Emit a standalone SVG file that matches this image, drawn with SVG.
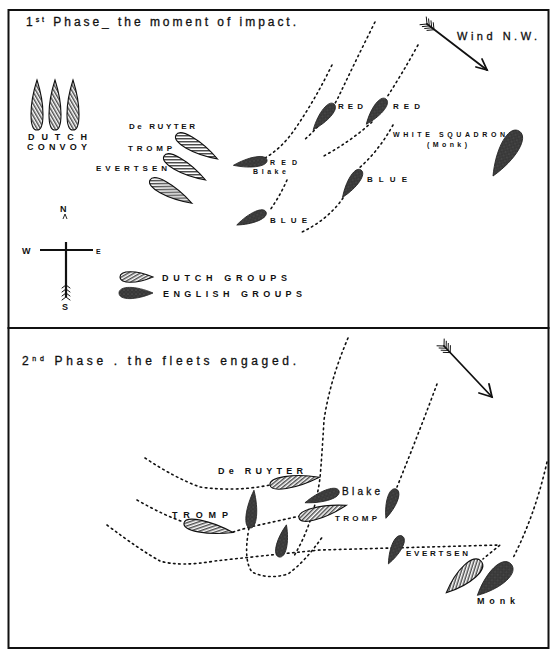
<svg xmlns="http://www.w3.org/2000/svg" width="558" height="658" viewBox="0 0 558 658">
<defs>
<pattern id="hatch" patternUnits="userSpaceOnUse" width="3" height="3" patternTransform="rotate(60)">
<rect width="3" height="3" fill="#fff"/>
<line x1="0.8" y1="0" x2="0.8" y2="3" stroke="#111" stroke-width="1.1"/>
</pattern>
<pattern id="stip" patternUnits="userSpaceOnUse" width="4" height="4">
<rect width="4" height="4" fill="#383838"/>
<circle cx="1" cy="1" r="0.5" fill="#777"/>
<circle cx="3" cy="3" r="0.4" fill="#666"/>
</pattern>
</defs>
<style>
.frame{fill:none;stroke:#111;stroke-width:2}
.dutch{fill:url(#hatch);stroke:#111;stroke-width:1.1}
.eng{fill:url(#stip);stroke:#222;stroke-width:0.8}
.track{fill:none;stroke:#111;stroke-width:1.6;stroke-dasharray:1.6 3.6;stroke-linecap:round}
.arrow{fill:none;stroke:#111;stroke-width:1.8;stroke-linecap:round}
.feather{fill:none;stroke:#111;stroke-width:1;stroke-linecap:round}
text{font-family:"Liberation Sans","DejaVu Sans",sans-serif;fill:#111}
.title{font-size:12px;stroke:#111;stroke-width:0.3}
.lab{font-size:9px;font-weight:bold}
.small{font-size:8px;font-weight:bold}
.tiny{font-size:7px;font-weight:bold}
.sup{font-size:7px}
</style>

<!-- frames -->
<rect class="frame" x="8.5" y="10" width="540" height="318"/>
<rect class="frame" x="8.5" y="328" width="540" height="320"/>

<!-- connectors / tracks -->
<g id="connectors">
<path class="track" d="M332,65 Q315,100 295,129 Q282,148 265,158"/>
<path class="track" d="M375,22 Q355,62 337,100 Q322,125 303,141"/>
<path class="track" d="M418,45 Q402,74 387,97 M372,122 Q350,142 322,157"/>
<path class="track" d="M393,125 Q378,152 358,169 M343,198 Q328,220 300,233"/>
<path class="track" d="M287,180 Q280,196 270,210"/>
<path class="track" d="M145,458 Q175,478 200,487 Q235,492 270,485"/>
<path class="track" d="M137,500 Q165,516 184,522 M233,532 L250,527 L300,516"/>
<path class="track" d="M107,525 Q140,550 160,561 Q180,567 215,561 Q260,556 320,550 L500,545 L483,559"/>
<path class="track" d="M348,338 Q330,380 324,420 Q322,455 320,478 Q315,515 300,545 L293,558"/>
<path class="track" d="M249,528 Q243,560 252,572 Q268,580 288,574 Q305,562 323,536"/>
<path class="track" d="M437,384 Q420,430 397,487"/>
<path class="track" d="M547,462 Q535,515 513,558"/>
</g>

<!-- titles -->
<g id="title1"><text class="title" x="26" y="26" textLength="270" lengthAdjust="spacing">1<tspan class="sup" dy="-4">st</tspan><tspan dy="4"> Phase_ the moment of impact.</tspan></text></g>
<g id="title2"><text class="title" x="22" y="365" textLength="274" lengthAdjust="spacing">2<tspan class="sup" dy="-4">nd</tspan><tspan dy="4"> Phase . the fleets engaged.</tspan></text></g>

<!-- wind arrows -->
<g id="wind1">
<line class="arrow" x1="427" y1="24" x2="487" y2="70"/>
<polyline class="arrow" points="476,67 487,70 482,59"/>
<path class="feather" d="M427,24 l-7,0.7 M427,24 l-0.7,-7 M429.3,25.9 l-7,0.7 M429.3,25.9 l-0.7,-7 M431.7,27.8 l-7,0.7 M431.7,27.8 l-0.7,-7 M434,29.7 l-7,0.7 M434,29.7 l-0.7,-7"/>
<text x="457" y="40" font-size="11" stroke="#111" stroke-width="0.3" textLength="80" lengthAdjust="spacing">Wind N.W.</text>
</g>
<g id="wind2">
<line class="arrow" x1="444" y1="346" x2="492" y2="397"/>
<polyline class="arrow" points="479,393 492,397 489,384"/>
<path class="feather" d="M444,346 l-7,-0.2 M444,346 l0.2,-7 M446.1,348.2 l-7,-0.2 M446.1,348.2 l0.2,-7 M448.1,350.4 l-7,-0.2 M448.1,350.4 l0.2,-7 M450.2,352.6 l-7,-0.2 M450.2,352.6 l0.2,-7"/>
</g>

<!-- compass -->
<g id="compass">
<text x="60" y="212" font-size="9" font-weight="bold">N</text>
<polyline fill="none" stroke="#111" stroke-width="0.9" points="63,219 65,214 67,219"/>
<line x1="40" y1="250" x2="93" y2="250" stroke="#111" stroke-width="2.2"/>
<line x1="66" y1="242" x2="66" y2="297" stroke="#111" stroke-width="2.2"/>
<path class="feather" d="M66,285 l-4,3 M66,285 l4,3 M66,289 l-4,3 M66,289 l4,3 M66,293 l-4,3 M66,293 l4,3 M66,297 l-4,3 M66,297 l4,3"/>
<text x="22" y="254" font-size="9" font-weight="bold">W</text>
<text x="96" y="254" font-size="7" font-weight="bold">E</text>
<text x="62" y="310" font-size="9" font-weight="bold">S</text>
</g>

<!-- legend -->
<g id="legend">
<path class="dutch" transform="translate(120,277)" d="M0,0 C0,-7 16.5,-7 33,0 C16.5,7 0,7 0,0Z"/>
<text class="lab" x="162" y="281" textLength="125" lengthAdjust="spacing">DUTCH GROUPS</text>
<path class="eng" transform="translate(119,293)" d="M0,0 C0,-7.5 17,-7.5 34,0 C17,7.5 0,7.5 0,0Z"/>
<text class="lab" x="163" y="297" textLength="139" lengthAdjust="spacing">ENGLISH GROUPS</text>
</g>

<!-- phase 1 nodes -->
<g id="dutch-convoy">
<path class="dutch" transform="translate(37,130) rotate(-90)" d="M0,0 C0,-8 25,-8 50,0 C25,8 0,8 0,0Z"/>
<path class="dutch" transform="translate(55,130) rotate(-90)" d="M0,0 C0,-8 25,-8 50,0 C25,8 0,8 0,0Z"/>
<path class="dutch" transform="translate(73,130) rotate(-90)" d="M0,0 C0,-8 25,-8 50,0 C25,8 0,8 0,0Z"/>
<text class="lab" x="28" y="140" textLength="59" lengthAdjust="spacing" font-weight="normal">DUTCH</text>
<text class="lab" x="27" y="150" textLength="60" lengthAdjust="spacing" font-weight="normal">CONVOY</text>
</g>
<g id="p1-deruyter">
<path class="dutch" transform="translate(176,135) rotate(30)" d="M0,0 C0,-8.5 24,-8.5 48,0 C24,8.5 0,8.5 0,0Z"/>
<text class="small" x="129" y="129" textLength="66" lengthAdjust="spacing">De RUYTER</text>
</g>
<g id="p1-tromp">
<path class="dutch" transform="translate(164,156) rotate(30)" d="M0,0 C0,-8.5 24,-8.5 48,0 C24,8.5 0,8.5 0,0Z"/>
<text class="small" x="128" y="151" textLength="44" lengthAdjust="spacing" font-weight="normal">TROMP</text>
</g>
<g id="p1-evertsen">
<path class="dutch" transform="translate(150,180) rotate(29)" d="M0,0 C0,-8.5 24,-8.5 48,0 C24,8.5 0,8.5 0,0Z"/>
<text class="small" x="96" y="171" textLength="71" lengthAdjust="spacing" font-weight="normal">EVERTSEN</text>
</g>
<g id="p1-red-blake">
<path class="eng" transform="translate(267,160) rotate(171)" d="M0,0 C0,-6.5 17,-6.5 34,0 C17,6.5 0,6.5 0,0Z"/>
<text class="tiny" x="270" y="165" textLength="27" lengthAdjust="spacing">RED</text>
<text class="tiny" x="253" y="174" textLength="33" lengthAdjust="spacing">Blake</text>
</g>
<g id="p1-red1">
<path class="eng" transform="translate(334,104) rotate(129)" d="M0,0 C0,-7 16.5,-7 33,0 C16.5,7 0,7 0,0Z"/>
<text class="small" x="338" y="109" textLength="25" lengthAdjust="spacing" font-weight="normal">RED</text>
</g>
<g id="p1-red2">
<path class="eng" transform="translate(386,99) rotate(128)" d="M0,0 C0,-7 16,-7 32,0 C16,7 0,7 0,0Z"/>
<text class="small" x="393" y="109" textLength="27" lengthAdjust="spacing" font-weight="normal">RED</text>
</g>
<g id="p1-blue1">
<path class="eng" transform="translate(361,170) rotate(124)" d="M0,0 C0,-7 16.5,-7 33,0 C16.5,7 0,7 0,0Z"/>
<text class="small" x="367" y="182" textLength="40" lengthAdjust="spacing" font-weight="normal">BLUE</text>
</g>
<g id="p1-blue2">
<path class="eng" transform="translate(266,212) rotate(156)" d="M0,0 C0,-6.5 16,-6.5 32,0 C16,6.5 0,6.5 0,0Z"/>
<text class="small" x="270" y="223" textLength="37" lengthAdjust="spacing" font-weight="normal">BLUE</text>
</g>
<g id="p1-white">
<path class="eng" transform="translate(519,131) rotate(120)" d="M0,0 C0,-12 26,-12 52,0 C26,12 0,12 0,0Z"/>
<text class="tiny" x="393" y="137" textLength="112" lengthAdjust="spacing">WHITE SQUADRON</text>
<text class="tiny" x="427" y="147" textLength="40" lengthAdjust="spacing">(Monk)</text>
</g>

<!-- phase 2 nodes -->
<g id="p2-deruyter">
<path class="dutch" transform="translate(270,485) rotate(-9)" d="M0,0 C0,-8 25,-8 50,0 C25,8 0,8 0,0Z"/>
<text class="lab" x="218" y="474" textLength="85" lengthAdjust="spacing">De RUYTER</text>
</g>
<g id="p2-tromp">
<path class="dutch" transform="translate(184,523) rotate(11)" d="M0,0 C0,-8 25,-8 50,0 C25,8 0,8 0,0Z"/>
<text class="lab" x="172" y="518" textLength="56" lengthAdjust="spacing" font-weight="normal">TROMP</text>
</g>
<g id="p2-tromp2">
<path class="dutch" transform="translate(299,518) rotate(-15)" d="M0,0 C0,-8 24.5,-8 49,0 C24.5,8 0,8 0,0Z"/>
<text class="small" x="335" y="521" textLength="42" lengthAdjust="spacing" font-weight="normal">TROMP</text>
</g>
<g id="p2-blake">
<path class="eng" transform="translate(339,491) rotate(161)" d="M0,0 C0,-7 18,-7 36,0 C18,7 0,7 0,0Z"/>
<text x="342" y="495" font-size="10" stroke="#111" stroke-width="0.3" textLength="38" lengthAdjust="spacing">Blake</text>
</g>
<g id="p2-eng1">
<path class="eng" transform="translate(250,528) rotate(-84)" d="M0,0 C0,-7 19,-7 38,0 C19,7 0,7 0,0Z"/>
</g>
<g id="p2-eng2">
<path class="eng" transform="translate(279,557) rotate(-77)" d="M0,0 C0,-7 16.5,-7 33,0 C16.5,7 0,7 0,0Z"/>
</g>
<g id="p2-eng3">
<path class="eng" transform="translate(396,489) rotate(109)" d="M0,0 C0,-7 15.5,-7 31,0 C15.5,7 0,7 0,0Z"/>
</g>
<g id="p2-eng4">
<path class="eng" transform="translate(402,536) rotate(116)" d="M0,0 C0,-7 15.5,-7 31,0 C15.5,7 0,7 0,0Z"/>
<text class="small" x="406" y="556" textLength="62" lengthAdjust="spacing">EVERTSEN</text>
</g>
<g id="p2-evertsen">
<path class="dutch" transform="translate(481,561) rotate(137.6)" d="M0,0 C0,-11 23.5,-11 47,0 C23.5,11 0,11 0,0Z"/>
</g>
<g id="p2-monk">
<path class="eng" transform="translate(511,564) rotate(137)" d="M0,0 C0,-12 23,-12 46,0 C23,12 0,12 0,0Z"/>
<text class="lab" x="477" y="604" textLength="38" lengthAdjust="spacing" font-weight="normal">Monk</text>
</g>
</svg>
